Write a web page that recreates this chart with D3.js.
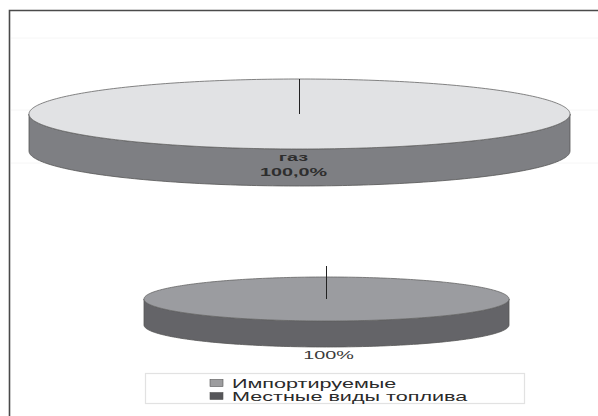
<!DOCTYPE html>
<html>
<head>
<meta charset="utf-8">
<script src="https://cdn.jsdelivr.net/npm/d3@7"></script>
<style>
  body { margin: 0; background: #fff; }
  svg { display: block; }
  text { font-family: "Liberation Sans", Arial, sans-serif; }
</style>
</head>
<body>
<svg id="chart" width="598" height="416"></svg>
<script>
// Upper pie: fuel structure by type
const gasLabels = ["газ"];
const gasValues = [100.0];

// Lower pie: imported vs local fuel
const fuelCategories = ["Импортируемые", "Местные виды топлива"];
const fuelValues = [100, 0];

const ru = d3.formatLocale({ decimal: ",", thousands: " ", grouping: [3], currency: ["", " ₽"] });
const fmt1 = ru.format(".1f");
const fmt0 = ru.format(".0f");

const svg = d3.select("#chart");
const W = 598, H = 416;
const STRETCH = 1.8; // horizontal text stretch of the page layout

// frame (open to the right and bottom)
svg.append("path")
  .attr("d", d3.line()([[9.5, H], [9.5, 10.5], [W, 10.5]]))
  .attr("fill", "none").attr("stroke", "#4a4a4a").attr("stroke-width", 1.6);

// faint guide lines
[38, 110, 163].forEach(y => {
  svg.append("line").attr("x1", 11).attr("x2", W).attr("y1", y).attr("y2", y)
    .attr("stroke", "#f6f6f6").attr("stroke-width", 1);
});

const line = d3.line();

function ellipsePoint(cx, cy, rx, ry, a) {
  return [cx + rx * Math.sin(a), cy - ry * Math.cos(a)];
}

function arcPoints(cx, cy, rx, ry, a0, a1) {
  const n = Math.max(2, Math.ceil(Math.abs(a1 - a0) / 0.02));
  const t = d3.scaleLinear().domain([0, n]).range([a0, a1]);
  return d3.range(n + 1).map(i => ellipsePoint(cx, cy, rx, ry, t(i)));
}

function draw3DPie(g, values, o) {
  const slices = d3.pie().sort(null).value(d => d)(values).filter(s => s.value > 0);
  // side walls (front half only)
  slices.forEach(s => {
    const a0 = Math.max(s.startAngle, Math.PI / 2);
    const a1 = Math.min(s.endAngle, 3 * Math.PI / 2);
    if (a1 <= a0) return;
    const upper = arcPoints(o.cx, o.cy, o.rx, o.ry, a0, a1);
    const lower = arcPoints(o.cx, o.cy + o.depth, o.rx, o.ry, a1, a0);
    g.append("path").attr("d", line(upper.concat(lower)) + "Z")
      .attr("fill", o.side[s.index]).attr("stroke", "#555").attr("stroke-width", 0.8);
  });
  // top faces
  slices.forEach(s => {
    const pts = arcPoints(o.cx, o.cy, o.rx, o.ry, s.startAngle, s.endAngle);
    const full = s.endAngle - s.startAngle >= 2 * Math.PI - 1e-6;
    const d = full ? line(pts) + "Z" : line([[o.cx, o.cy]].concat(pts)) + "Z";
    g.append("path").attr("d", d)
      .attr("fill", o.top[s.index]).attr("stroke", "#666").attr("stroke-width", 0.8);
  });
  // slice boundary rays
  slices.forEach(s => {
    const p = ellipsePoint(o.cx, o.cy, o.rx, o.ry + o.overhang, s.startAngle);
    g.append("line").attr("x1", o.cx).attr("y1", o.cy).attr("x2", p[0]).attr("y2", p[1])
      .attr("stroke", "#222").attr("stroke-width", 1);
  });
  return slices;
}

function stretchedText(g, x, y, txt, size, weight, fill, anchor) {
  return g.append("text")
    .attr("transform", `translate(${x},${y}) scale(${STRETCH},1)`)
    .attr("text-anchor", anchor || "middle")
    .attr("font-size", size).attr("font-weight", weight || "normal")
    .attr("fill", fill).text(txt);
}

// upper pie
const gasPie = { cx: 299.5, cy: 114, rx: 270.5, ry: 35, depth: 37, overhang: 0,
  top: ["#e1e2e4"], side: ["#7e7f83"] };
const g1 = svg.append("g");
const gasSlices = draw3DPie(g1, gasValues, gasPie);
gasSlices.forEach(s => {
  const lx = gasPie.cx - 6, ly = gasPie.cy + gasPie.ry;
  stretchedText(g1, lx, ly + 12, gasLabels[s.index], 11, "bold", "#2e2e2e");
  stretchedText(g1, lx, ly + 27, fmt1(s.value) + "%", 11, "bold", "#2e2e2e");
});

// lower pie
const fuelPie = { cx: 326.5, cy: 299, rx: 182.5, ry: 22, depth: 26, overhang: 11,
  top: ["#9b9ca0", "#5c5c60"], side: ["#646468", "#444448"] };
const g2 = svg.append("g");
const fuelSlices = draw3DPie(g2, fuelValues, fuelPie);
const fuelTotal = d3.sum(fuelValues);
fuelSlices.forEach(s => {
  stretchedText(g2, fuelPie.cx + 2, fuelPie.cy + fuelPie.ry + fuelPie.depth + 12,
    fmt0(s.value / fuelTotal * 100) + "%", 11, "normal", "#3a3a3a");
});

// legend
const lg = svg.append("g");
lg.append("rect").attr("x", 145.5).attr("y", 373.5).attr("width", 379).attr("height", 30)
  .attr("fill", "#fff").attr("stroke", "#e2e2e2").attr("stroke-width", 1.2);
const rowY = d3.scalePoint().domain(fuelCategories).range([383, 396]);
const legendColors = ["#9d9d9f", "#565659"];
fuelCategories.forEach((c, i) => {
  lg.append("rect").attr("x", 210).attr("y", rowY(c) - 3.5).attr("width", 13).attr("height", 7)
    .attr("fill", legendColors[i]).attr("stroke", "#555").attr("stroke-width", 0.6);
  stretchedText(lg, 232, rowY(c) + 4.5, c, 12, "normal", "#2a2a2a", "start");
});
</script>
</body>
</html>
